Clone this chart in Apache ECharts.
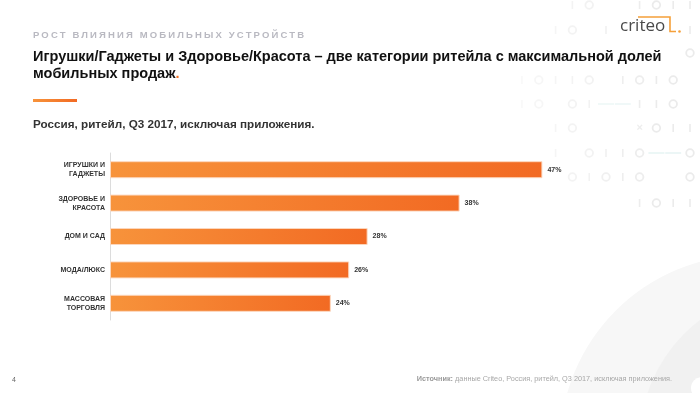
<!DOCTYPE html>
<html><head><meta charset="utf-8">
<script src="https://cdn.jsdelivr.net/npm/echarts@6/dist/echarts.min.js"></script>
<style>
html,body{margin:0;padding:0;background:#fff;}
#wrap{position:relative;width:700px;height:393px;}
#c{width:700px;height:393px;}
#kicker{position:absolute;left:33px;top:28.5px;font:bold 9.5px "Liberation Sans",Arial,sans-serif;letter-spacing:2.15px;color:#b9b9c1;white-space:nowrap;}
</style></head>
<body><div id="wrap"><div id="c"></div><div id="kicker">РОСТ ВЛИЯНИЯ МОБИЛЬНЫХ УСТРОЙСТВ</div></div>
<script>
const categories = ['ИГРУШКИ И\nГАДЖЕТЫ', 'ЗДОРОВЬЕ И\nКРАСОТА', 'ДОМ И САД', 'МОДА/ЛЮКС', 'МАССОВАЯ\nТОРГОВЛЯ'];
const shares = [47, 38, 28, 26, 24];
const titleText = 'Игрушки/Гаджеты и Здоровье/Красота – две категории ритейла с максимальной долей\nмобильных продаж';
const subtitleText = 'Россия, ритейл, Q3 2017, исключая приложения.';
const sourceLabel = 'Источник:';
const sourceText = ' данные Criteo, Россия, ритейл, Q3 2017, исключая приложения.';
const pageNo = '4';

// background decoration pattern (purely decorative)
const decoRows = [
  [5,   '...|o..|o||'],
  [30,  '..|o.|....|'],
  [53,  '..........o'],
  [80,  '|o||o.|o|o.'],
  [104, '|o.o|--||o.'],
  [128, '..|o...xo||'],
  [153, '..|.o||o--o'],
  [177, '...o|o|o..o'],
  [203, '.......|o||']
];
const decoX0 = 522, decoStep = 16.8;
const deco = [];
decoRows.forEach(([y, s]) => {
  for (let i = 0; i < s.length; i++) {
    const x = decoX0 + i * decoStep, ch = s[i];
    const op = Math.min(1, 0.35 + i * 0.08);
    const col = '#ebebeb';
    if (ch === '|') deco.push({type:'line', shape:{x1:x,y1:y-4,x2:x,y2:y+4}, style:{stroke:col,lineWidth:1.6,opacity:op}, z:0, silent:true});
    else if (ch === 'o') deco.push({type:'circle', shape:{cx:x,cy:y,r:3.8}, style:{fill:'none',stroke:col,lineWidth:1.8,opacity:op}, z:0, silent:true});
    else if (ch === 'x') deco.push({type:'text', x:x, y:y, style:{text:'×',fill:col,font:'bold 11px sans-serif',align:'center',verticalAlign:'middle',opacity:op}, z:0, silent:true});
    else if (ch === '-') deco.push({type:'line', shape:{x1:x-8,y1:y,x2:x+8,y2:y}, style:{stroke:'#e0f1f0',lineWidth:1.2,opacity:op}, z:0, silent:true});
  }
});

const chart = echarts.init(document.getElementById('c'), null, {renderer:'canvas'});
const orangeGrad = new echarts.graphic.LinearGradient(0,0,1,0,[{offset:0,color:'#F7933B'},{offset:1,color:'#F26A23'}]);
chart.setOption({
  backgroundColor: '#ffffff',
  animation: false,
  textStyle: {fontFamily: '"Liberation Sans", Arial, sans-serif'},
  grid: {left: 110, right: 130, top: 153, bottom: 73, containLabel: false},
  xAxis: {type:'value', min:0, max:50, show:false},
  yAxis: {
    type:'category', data: categories, inverse:true,
    axisLine:{show:true, lineStyle:{color:'#dcdcdc', width:1}},
    axisTick:{show:false},
    axisLabel:{color:'#333', fontSize:7, fontWeight:'bold', lineHeight:9, margin:5, fontFamily:'"Liberation Sans", Arial, sans-serif'}
  },
  series: [{
    type:'bar', data: shares, barWidth: 17, z: 5,
    itemStyle:{color: orangeGrad, borderColor:'rgba(252,215,190,0.95)', borderWidth:1},
    label:{show:true, position:'right', distance:5, formatter:'{c}%', color:'#333', fontSize:7, fontWeight:'bold'}
  }],
  graphic: [
    {type:'circle', shape:{cx:750, cy:445, r:190}, style:{fill:'#f7f7f7'}, z:-2, silent:true},
    {type:'circle', shape:{cx:790, cy:440, r:150}, style:{fill:'#f1f1f1'}, z:-1, silent:true},
    {type:'circle', shape:{cx:702, cy:388, r:11}, style:{fill:'#ffffff'}, z:-1, silent:true},
    ...deco,
    // logo
    {type:'text', x:620, y:35, style:{text:'criteo', fill:'#4a4a4a', font:'17px "Open Sans", "Liberation Sans", sans-serif', textVerticalAlign:'bottom'}, z:3},
    {type:'polyline', shape:{points:[[638,17],[670,17],[670,31.5],[676,31.5]]}, style:{stroke:'#F5A03A', lineWidth:1.6, fill:'none'}, z:3},
    {type:'circle', shape:{cx:679.5, cy:31.5, r:1.3}, style:{fill:'#F5A03A'}, z:3},
    // title
    {type:'text', x:33, y:48, style:{
      text: titleText.replace('продаж', 'продаж{o|.}'),
      font:'bold 14.5px "Liberation Sans", Arial, sans-serif', fill:'#111', lineHeight:17.5,
      rich:{o:{fill:'#F37021', font:'bold 14.5px "Liberation Sans", Arial, sans-serif'}}
    }, z:4},
    {type:'rect', shape:{x:33, y:99, width:44, height:3}, style:{fill: new echarts.graphic.LinearGradient(0,0,1,0,[{offset:0,color:'#F7933B'},{offset:1,color:'#F26A23'}])}, z:4},
    {type:'text', x:33, y:118.5, style:{text: subtitleText, font:'bold 11.7px "Liberation Sans", Arial, sans-serif', fill:'#333'}, z:4},
    // footer
    {type:'text', x:12, y:377, style:{text: pageNo, font:'7px "Liberation Sans", Arial, sans-serif', fill:'#666'}, z:4},
    {type:'text', x:672, y:379, style:{
      text: '{b|' + sourceLabel + '}{n|' + sourceText + '}', align:'right', verticalAlign:'middle',
      rich:{b:{font:'bold 7.3px "Liberation Sans", Arial, sans-serif', fill:'#9a9a9a'}, n:{font:'7.3px "Liberation Sans", Arial, sans-serif', fill:'#a8a8a8'}}
    }, z:4}
  ]
});
</script>
</body></html>
